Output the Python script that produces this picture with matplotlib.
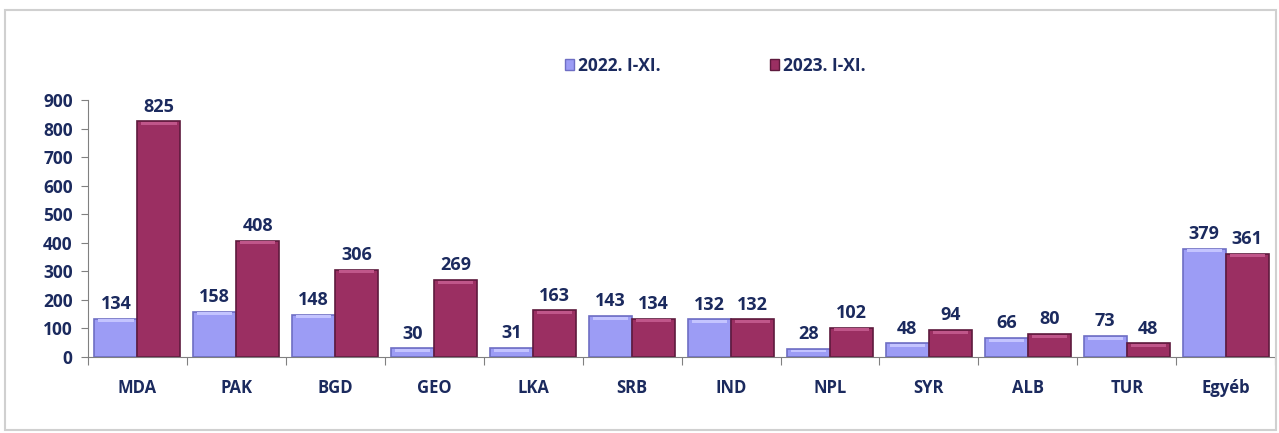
import numpy as np
import matplotlib
matplotlib.use("Agg")
import matplotlib.pyplot as plt
from matplotlib.patches import Rectangle

countries = ['MDA', 'PAK', 'BGD', 'GEO', 'LKA', 'SRB', 'IND', 'NPL', 'SYR',
             'ALB', 'TUR', 'Egyéb']
values_2022 = [134, 158, 148, 30, 31, 143, 132, 28, 48, 66, 73, 379]
values_2023 = [825, 408, 306, 269, 163, 134, 132, 102, 94, 80, 48, 361]
series_labels = ['2022. I-XI.', '2023. I-XI.']

TEXT = '#1b2a5e'
BLUE = '#9c9cf5'
RED = '#9b2f62'

plt.rcParams['font.family'] = ['Open Sans', 'DejaVu Sans']

fig = plt.figure(figsize=(12.79, 4.33), dpi=100)
fig.patches.append(Rectangle((0.004, 0.007), 0.994, 0.97, transform=fig.transFigure,
                             fill=False, edgecolor='#d0d0d0', linewidth=1.5))
axs = fig.add_axes([0.0688, 0.1755, 0.9282, 0.5935])

x = np.arange(len(countries))
width = 0.435
offs = 0.005


def bevel_bars(pos, vals, color, dark, light):
  axs.bar(pos, vals, width, color=color, edgecolor=dark, linewidth=1.2,
          align='edge', zorder=2)
  # lighter cap on top of each bar
  cap = 10
  axs.bar(pos + 0.04, [cap] * len(vals), width - 0.08,
          bottom=np.array(vals) - cap - 2, color=light, linewidth=0,
          align='edge', zorder=3)


b_pos = x - 0.5 + 0.06 + offs
r_pos = b_pos + width
bevel_bars(b_pos, values_2022, BLUE, '#6e6ec4', '#c4c4ff')
bevel_bars(r_pos, values_2023, RED, '#5e1a3d', '#c0568a')

for px, v in zip(b_pos, values_2022):
  axs.text(px + width / 2, v + 20, str(v), ha='center', va='bottom',
           fontsize=13, fontweight='bold', color=TEXT)
for px, v in zip(r_pos, values_2023):
  axs.text(px + width / 2, v + 20, str(v), ha='center', va='bottom',
           fontsize=13, fontweight='bold', color=TEXT)

axs.set_xlim(-0.5, len(countries) - 0.5)
axs.set_ylim(0, 900)
axs.set_yticks(range(0, 901, 100))
axs.set_xticks(np.arange(len(countries) + 1) - 0.5)
axs.set_xticklabels([])
axs.set_xticks(x, minor=True)
axs.set_xticklabels(countries, minor=True)
axs.tick_params(axis='x', which='minor', length=0, pad=16, labelsize=12,
                labelcolor=TEXT)
axs.tick_params(axis='x', which='major', length=6, color='#808080')
axs.tick_params(axis='y', length=5, color='#808080', labelsize=12.5,
                labelcolor=TEXT, pad=6)
for lbl in axs.get_xticklabels(minor=True) + axs.get_yticklabels():
  lbl.set_fontweight('bold')

for side in ['top', 'right']:
  axs.spines[side].set_visible(False)
for side in ['left', 'bottom']:
  axs.spines[side].set_color('#808080')

handles = [Rectangle((0, 0), 1, 1, facecolor=BLUE, edgecolor='#6e6ec4'),
           Rectangle((0, 0), 1, 1, facecolor=RED, edgecolor='#5e1a3d')]
fig.legend(handles, series_labels, loc='center', bbox_to_anchor=(0.559, 0.848),
           ncol=2, frameon=False, handlelength=0.55, handleheight=0.55,
           handletextpad=0.2, columnspacing=6.3,
           prop={'weight': 'bold', 'size': 12.5})
for t in fig.legends[0].get_texts():
  t.set_color(TEXT)

plt.savefig('out.png')
